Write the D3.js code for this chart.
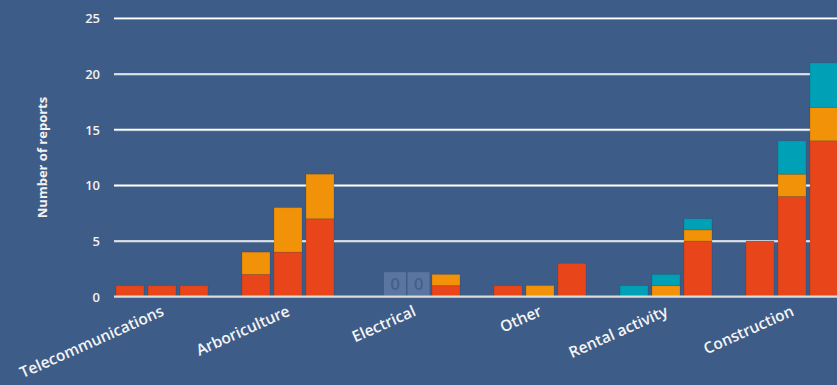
<!DOCTYPE html>
<html><head><meta charset="utf-8">
<script src="https://cdn.jsdelivr.net/npm/d3@7"></script>
<style>
html,body{margin:0;padding:0;background:#3e5c88;}
svg{display:block;}
text{font-family:"Open Sans",sans-serif;}
</style></head>
<body>
<svg id="chart" width="837" height="385"></svg>
<script>
// ---- data ----
const categories = ["Telecommunications","Arboriculture","Electrical","Other","Rental activity","Construction"];
const periods = ["P1","P2","P3"];
// stacked series (bottom to top), values per category per period
const seriesRed    = [[1,1,1],[2,4,7],[0,0,1],[1,0,3],[0,0,5],[5,9,14]];
const seriesOrange = [[0,0,0],[2,4,4],[0,0,1],[0,1,0],[0,1,1],[0,2,3]];
const seriesTeal   = [[0,0,0],[0,0,0],[0,0,0],[0,0,0],[1,1,1],[0,3,4]];
const yTicks = [0,5,10,15,20,25];
const yTitle = "Number of reports";

// ---- layout / style ----
const W = 837, H = 385;
const colors = ["#e8461a","#f29208","#00a0b6"];
const svg = d3.select("#chart");
svg.append("rect").attr("width",W).attr("height",H).attr("fill","#3e5c88");

const y = d3.scaleLinear().domain([0,25]).range([296.7,18.3]);
const x0 = d3.scaleBand().domain(categories).range([116,116+5*126+92]).paddingInner(34/126).paddingOuter(0);
const x1 = d3.scaleBand().domain(periods).range([0,x0.bandwidth()]).paddingInner(4/32).paddingOuter(0);

// gridlines
const gridG = svg.append("g");
yTicks.filter(t=>t>0).forEach(t=>{
  gridG.append("line").attr("x1",114).attr("x2",W).attr("y1",y(t)+1).attr("y2",y(t)+1)
    .attr("stroke","#9aa9bf").attr("stroke-width",1);
  gridG.append("line").attr("x1",114).attr("x2",W).attr("y1",y(t)).attr("y2",y(t))
    .attr("stroke","#ffffff").attr("stroke-width",1.6);
});

// y tick labels
const yAxis = d3.axisLeft(y).tickValues(yTicks).tickSize(0).tickPadding(0);
const yg = svg.append("g").attr("transform","translate(100,0)").call(yAxis);
yg.select(".domain").remove();
yg.selectAll("text").attr("fill","#f2f2f2").attr("font-size",13).attr("font-weight",600)
  .attr("font-family","'Open Sans',sans-serif").attr("dy","0.35em");

// y title
svg.append("text").attr("transform",`translate(47,${(y(0)+y(25))/2}) rotate(-90)`)
  .attr("text-anchor","middle").attr("fill","#f2f2f2").attr("font-size",13).attr("font-weight",700)
  .text(yTitle);

// bars
const series = [seriesRed, seriesOrange, seriesTeal];
const barsG = svg.append("g");
categories.forEach((c,ci)=>{
  periods.forEach((p,pi)=>{
    let base = 0;
    series.forEach((s,si)=>{
      const v = s[ci][pi];
      if(v>0){
        barsG.append("rect")
          .attr("x",x0(c)+x1(p)).attr("width",x1.bandwidth())
          .attr("y",y(base+v)).attr("height",y(base)-y(base+v))
          .attr("fill",colors[si])
          .attr("stroke","#000").attr("stroke-opacity",0.1).attr("stroke-width",1);
      }
      base += v;
    });
    if(base===0){
      // zero value label box
      const cx = x0(c)+x1(p)+x1.bandwidth()/2 + (pi===0?13:4.5);
      svg.append("rect").attr("x",cx-11).attr("y",y(0)-24.5).attr("width",22).attr("height",23.5)
        .attr("fill","#5a76a0");
      svg.append("text").attr("x",cx).attr("y",y(0)-12.5).attr("dy","0.36em")
        .attr("text-anchor","middle").attr("font-size",17).attr("font-weight",600)
        .attr("fill","#42608f").text("0");
    }
  });
});

// baseline
svg.append("line").attr("x1",114).attr("x2",W).attr("y1",y(0)).attr("y2",y(0))
  .attr("stroke","#dcdcdc").attr("stroke-width",2.2);

// x labels
const xg = svg.append("g");
categories.forEach(c=>{
  const cx = x0(c)+x0.bandwidth()/2;
  xg.append("text").attr("transform",`translate(${cx+3},${315}) rotate(-24)`)
    .attr("text-anchor","end").attr("fill","#f4f4f4").attr("font-size",15.5).attr("font-weight",600)
    .text(c);
});
</script>
</body></html>
